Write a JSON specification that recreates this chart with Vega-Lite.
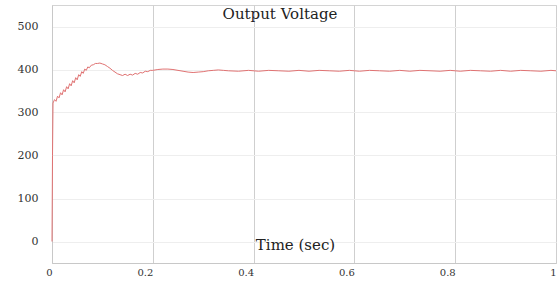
{
  "$schema": "https://vega.github.io/schema/vega-lite/v6.json",
  "width": 504,
  "height": 258,
  "autosize": "none",
  "padding": {"left": 52, "top": 5, "right": 1, "bottom": 19},
  "background": "white",
  "config": {
    "view": {"stroke": "#d4d4d4", "strokeWidth": 1},
    "font": "DejaVu Serif"
  },
  "title": {
    "text": "Output Voltage",
    "orient": "top",
    "offset": -17,
    "dx": -24,
    "font": "DejaVu Serif",
    "fontSize": 15,
    "fontWeight": "normal",
    "color": "#222222"
  },
  "data": {
    "values": [
      {"t": 0, "v": 0},
      {"t": 0.001, "v": 200},
      {"t": 0.002, "v": 322},
      {"t": 0.005, "v": 330},
      {"t": 0.008, "v": 326},
      {"t": 0.011, "v": 338},
      {"t": 0.014, "v": 334},
      {"t": 0.017, "v": 346},
      {"t": 0.020, "v": 341},
      {"t": 0.023, "v": 353},
      {"t": 0.026, "v": 348},
      {"t": 0.029, "v": 360},
      {"t": 0.032, "v": 355},
      {"t": 0.035, "v": 367},
      {"t": 0.038, "v": 362},
      {"t": 0.041, "v": 374},
      {"t": 0.044, "v": 369},
      {"t": 0.047, "v": 381},
      {"t": 0.050, "v": 376},
      {"t": 0.053, "v": 388},
      {"t": 0.056, "v": 384},
      {"t": 0.059, "v": 395},
      {"t": 0.062, "v": 391},
      {"t": 0.065, "v": 401},
      {"t": 0.068, "v": 398},
      {"t": 0.071, "v": 406},
      {"t": 0.074, "v": 404},
      {"t": 0.078, "v": 410},
      {"t": 0.082, "v": 411},
      {"t": 0.086, "v": 414},
      {"t": 0.090, "v": 414},
      {"t": 0.095, "v": 415},
      {"t": 0.100, "v": 413},
      {"t": 0.105, "v": 411},
      {"t": 0.110, "v": 407},
      {"t": 0.115, "v": 403},
      {"t": 0.120, "v": 398},
      {"t": 0.125, "v": 394},
      {"t": 0.130, "v": 390},
      {"t": 0.135, "v": 388},
      {"t": 0.140, "v": 386},
      {"t": 0.145, "v": 389},
      {"t": 0.150, "v": 386},
      {"t": 0.155, "v": 389},
      {"t": 0.160, "v": 387},
      {"t": 0.165, "v": 391},
      {"t": 0.170, "v": 389},
      {"t": 0.175, "v": 393},
      {"t": 0.180, "v": 392},
      {"t": 0.185, "v": 396},
      {"t": 0.190, "v": 395},
      {"t": 0.195, "v": 398},
      {"t": 0.200, "v": 398},
      {"t": 0.210, "v": 400},
      {"t": 0.220, "v": 401},
      {"t": 0.230, "v": 401},
      {"t": 0.240, "v": 400},
      {"t": 0.250, "v": 398},
      {"t": 0.260, "v": 396},
      {"t": 0.270, "v": 394},
      {"t": 0.280, "v": 393},
      {"t": 0.290, "v": 394},
      {"t": 0.300, "v": 395},
      {"t": 0.310, "v": 397},
      {"t": 0.320, "v": 398},
      {"t": 0.330, "v": 399},
      {"t": 0.340, "v": 398},
      {"t": 0.350, "v": 397},
      {"t": 0.370, "v": 396},
      {"t": 0.390, "v": 398},
      {"t": 0.410, "v": 396},
      {"t": 0.430, "v": 398},
      {"t": 0.450, "v": 397},
      {"t": 0.470, "v": 396},
      {"t": 0.490, "v": 398},
      {"t": 0.510, "v": 396},
      {"t": 0.530, "v": 398},
      {"t": 0.550, "v": 397},
      {"t": 0.570, "v": 396},
      {"t": 0.590, "v": 398},
      {"t": 0.610, "v": 396},
      {"t": 0.630, "v": 398},
      {"t": 0.650, "v": 397},
      {"t": 0.670, "v": 396},
      {"t": 0.690, "v": 398},
      {"t": 0.710, "v": 396},
      {"t": 0.730, "v": 398},
      {"t": 0.750, "v": 397},
      {"t": 0.770, "v": 396},
      {"t": 0.790, "v": 398},
      {"t": 0.810, "v": 396},
      {"t": 0.830, "v": 398},
      {"t": 0.850, "v": 397},
      {"t": 0.870, "v": 396},
      {"t": 0.890, "v": 398},
      {"t": 0.910, "v": 396},
      {"t": 0.930, "v": 398},
      {"t": 0.950, "v": 397},
      {"t": 0.970, "v": 396},
      {"t": 0.990, "v": 398},
      {"t": 1.000, "v": 397}
    ]
  },
  "mark": {"type": "line", "color": "#e07272", "strokeWidth": 1, "interpolate": "linear"},
  "encoding": {
    "x": {
      "field": "t",
      "type": "quantitative",
      "scale": {"domain": [0, 1], "nice": false},
      "axis": {
        "values": [0, 0.2, 0.4, 0.6, 0.8, 1],
        "format": "~g",
        "title": "Time (sec)",
        "titleFont": "DejaVu Serif",
        "titleFontSize": 15,
        "titleFontWeight": "normal",
        "titleColor": "#222222",
        "titleX": 243,
        "titleY": -14,
        "titleBaseline": "alphabetic",
        "titleAnchor": null,
        "titleAlign": "center",
        "labelFont": "DejaVu Serif",
        "labelFontSize": 10,
        "labelColor": "#333333",
        "labelAlign": "right",
        "labelPadding": 4,
        "labelFlush": false,
        "ticks": false,
        "domainColor": "#c8c8c8",
        "gridColor": "#cfcfcf",
        "gridWidth": 1
      }
    },
    "y": {
      "field": "v",
      "type": "quantitative",
      "scale": {"domain": [-50, 550], "nice": false},
      "axis": {
        "values": [0, 100, 200, 300, 400, 500],
        "title": null,
        "labelFont": "DejaVu Serif",
        "labelFontSize": 11,
        "labelColor": "#333333",
        "labelPadding": 14,
        "ticks": false,
        "domainColor": "#c8c8c8",
        "gridColor": "#eeeeee",
        "gridWidth": 1
      }
    }
  }
}
